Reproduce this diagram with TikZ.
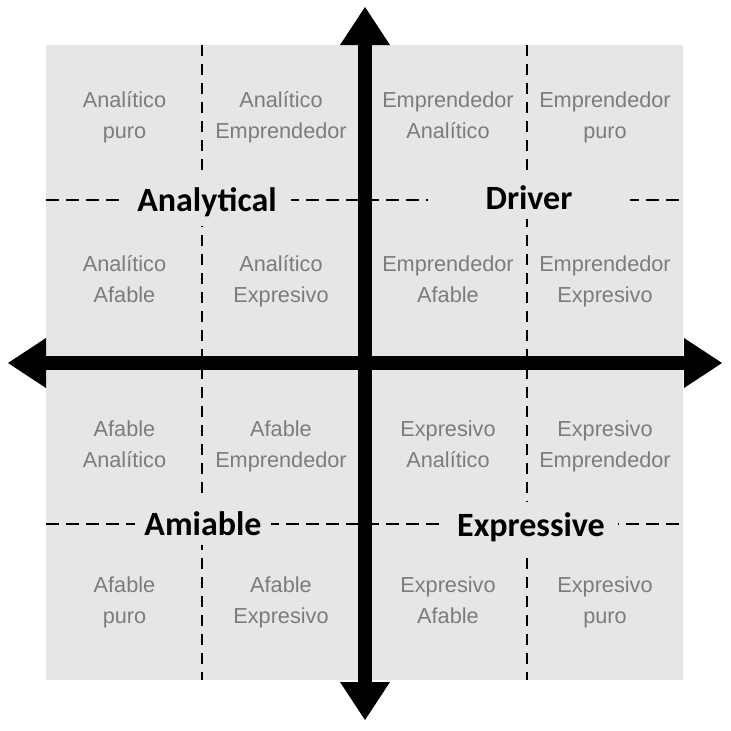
\documentclass[tikz,border=0pt]{standalone}
\usepackage{fontspec}
\setmainfont{Liberation Sans}
\newfontfamily\lblfont{Carlito}
\usetikzlibrary{arrows.meta}
\definecolor{panel}{HTML}{E6E6E6}
\definecolor{celltext}{HTML}{7C7C7C}
\begin{document}
\begin{tikzpicture}[x=1pt,y=-1pt,
  cell/.style={anchor=base, align=center, text=celltext, inner sep=0pt, font=\fontsize{21.7}{30.5}\selectfont},
  quad/.style={fill=panel, inner ysep=10pt, anchor=base, font=\lblfont\bfseries\fontsize{34}{40}\selectfont},
  hdash/.style={line width=2.4pt, dash pattern=on 13pt off 7pt},
  vdash/.style={line width=2.4pt, dash pattern=on 11pt off 8pt},
  axis/.style={line width=14pt, {Triangle[length=38pt,width=50pt,line width=0pt]}-{Triangle[length=38pt,width=50pt,line width=0pt]}}
]
\useasboundingbox (0,0) rectangle (731,731);
\fill[panel] (46,45) rectangle (683,680);

% dashed grid
\coordinate (h1a) at (46,200);  \coordinate (h1b) at (683,200);
\coordinate (h2a) at (46,524);  \coordinate (h2b) at (683,524);
\coordinate (v1a) at (202,45);  \coordinate (v1b) at (202,680);
\coordinate (v2a) at (527,45);  \coordinate (v2b) at (527,680);
\draw[hdash] (h1a) -- (h1b);
\draw[hdash] (h2a) -- (h2b);
\draw[vdash] (v1a) -- (v1b);
\draw[vdash] (v2a) -- (v2b);

% quadrant labels
\node[quad, inner xsep=14pt] (analytical) at (207,211) {Analytical};
\node[quad, inner xsep=58pt] (driver) at (529,209) {Driver};
\node[quad, inner xsep=9pt] (amiable) at (203,535) {Amiable};
\node[quad, inner xsep=13pt] (expressive) at (531,536) {Expressive};

% cells (anchor base = baseline of the second line)
\node[cell] (c11) at (124.5,138) {Analítico\\puro};
\node[cell] (c12) at (281,138) {Analítico\\Emprendedor};
\node[cell] (c13) at (448,138) {Emprendedor\\Analítico};
\node[cell] (c14) at (605,138) {Emprendedor\\puro};
\node[cell] (c21) at (124.5,302) {Analítico\\Afable};
\node[cell] (c22) at (281,302) {Analítico\\Expresivo};
\node[cell] (c23) at (448,302) {Emprendedor\\Afable};
\node[cell] (c24) at (605,302) {Emprendedor\\Expresivo};
\node[cell] (c31) at (124.5,467) {Afable\\Analítico};
\node[cell] (c32) at (281,467) {Afable\\Emprendedor};
\node[cell] (c33) at (448,467) {Expresivo\\Analítico};
\node[cell] (c34) at (605,467) {Expresivo\\Emprendedor};
\node[cell] (c41) at (124.5,623) {Afable\\puro};
\node[cell] (c42) at (281,623) {Afable\\Expresivo};
\node[cell] (c43) at (448,623) {Expresivo\\Afable};
\node[cell] (c44) at (605,623) {Expresivo\\puro};

% axes
\coordinate (N) at (365,7);
\coordinate (S) at (365,720);
\coordinate (W) at (8,363);
\coordinate (E) at (722,363);
\draw[axis] (N) -- (S);
\draw[axis] (W) -- (E);
\end{tikzpicture}
\end{document}
